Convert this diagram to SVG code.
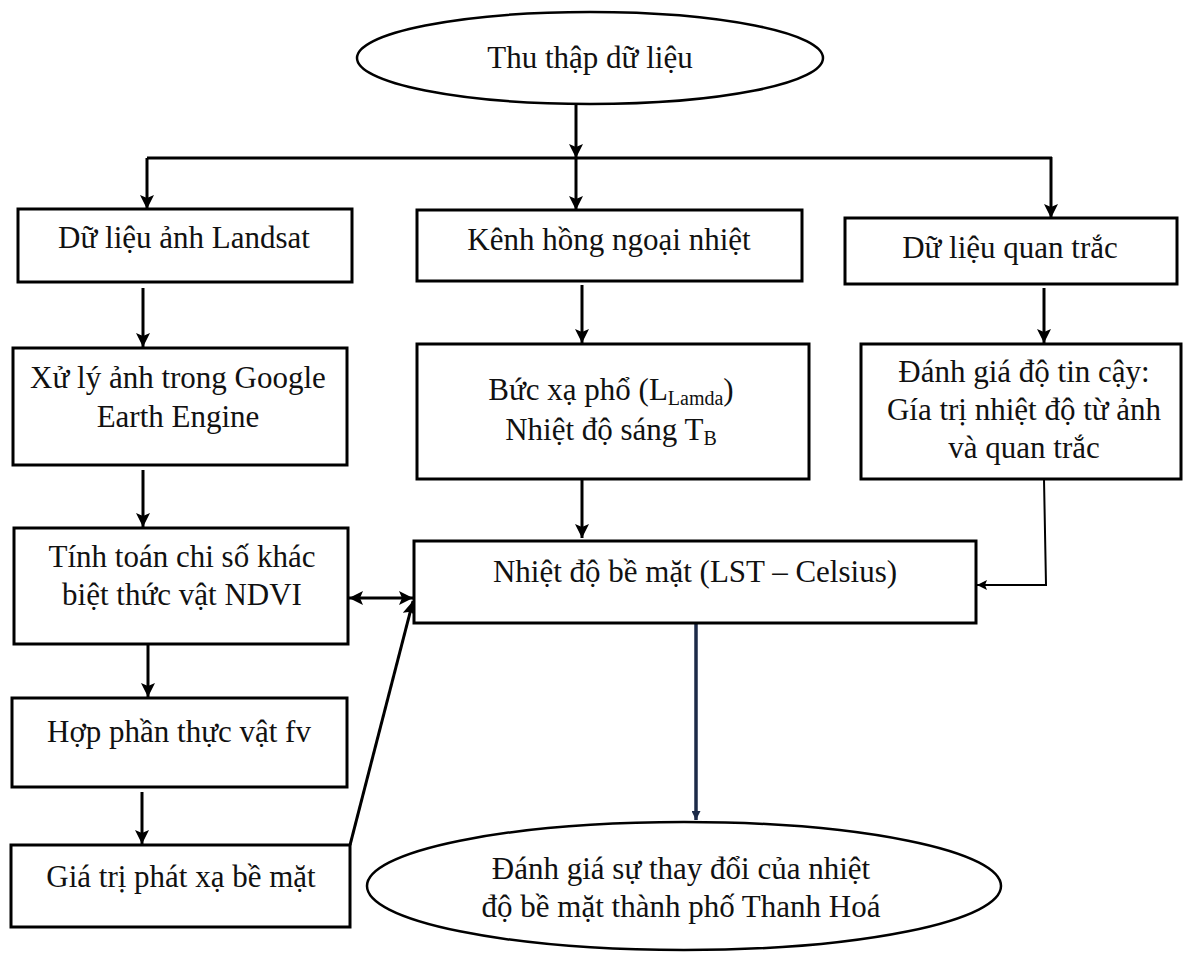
<svg xmlns="http://www.w3.org/2000/svg" width="1184" height="953" viewBox="0 0 1184 953">
<style>
  .box { fill: #ffffff; stroke: #000000; stroke-width: 3; }
  .ell { fill: #ffffff; stroke: #000000; stroke-width: 2.5; }
  .t { font-family: "Liberation Serif", "Times New Roman", serif; font-size: 31px; fill: #111111; text-anchor: middle; }
  .sub { font-size: 20px; }
  .c { fill: none; stroke: #000000; stroke-width: 3; }
  .thin { fill: none; stroke: #000000; stroke-width: 2; }
  .navy { fill: none; stroke: #1c2a48; stroke-width: 3.5; }
</style>
<defs>
  <marker id="ah" markerUnits="userSpaceOnUse" markerWidth="14" markerHeight="14" viewBox="0 0 14 14" refX="14" refY="7" orient="auto">
    <path d="M0,0 L14,7 L0,14 L3,7 z" fill="#000000"/>
  </marker>
  <marker id="ahs" markerUnits="userSpaceOnUse" markerWidth="14" markerHeight="14" viewBox="0 0 14 14" refX="14" refY="7" orient="auto-start-reverse">
    <path d="M0,0 L14,7 L0,14 L3,7 z" fill="#000000"/>
  </marker>
  <marker id="ahThin" markerUnits="userSpaceOnUse" markerWidth="10" markerHeight="10" viewBox="0 0 10 10" refX="10" refY="5" orient="auto">
    <path d="M0,0 L10,5 L0,10 L2,5 z" fill="#000000"/>
  </marker>
  <marker id="ahNavy" markerUnits="userSpaceOnUse" markerWidth="9" markerHeight="9" viewBox="0 0 9 9" refX="9" refY="4.5" orient="auto">
    <path d="M0,0 L9,4.5 L0,9 z" fill="#1c2a48"/>
  </marker>
</defs>

<g id="connectors">
  <line class="c" x1="576" y1="104" x2="576" y2="158" marker-end="url(#ah)"/>
  <line class="c" x1="147" y1="158" x2="1052" y2="158"/>
  <line class="c" x1="147" y1="158" x2="147" y2="209" marker-end="url(#ah)"/>
  <line class="c" x1="576" y1="158" x2="576" y2="210" marker-end="url(#ah)"/>
  <line class="c" x1="1051" y1="157" x2="1051" y2="218" marker-end="url(#ah)"/>
  <line class="c" x1="143" y1="288" x2="143" y2="347" marker-end="url(#ah)"/>
  <line class="c" x1="143" y1="470" x2="143" y2="527" marker-end="url(#ah)"/>
  <line class="c" x1="148" y1="644" x2="148" y2="697" marker-end="url(#ah)"/>
  <line class="c" x1="142" y1="792" x2="142" y2="844" marker-end="url(#ah)"/>
  <line class="c" x1="582" y1="285" x2="582" y2="343" marker-end="url(#ah)"/>
  <line class="c" x1="582" y1="479" x2="582" y2="538" marker-end="url(#ah)"/>
  <line class="c" x1="1044" y1="288" x2="1044" y2="343" marker-end="url(#ah)"/>
  <polyline class="thin" points="1044,479 1046,585 977,585" marker-end="url(#ahThin)"/>
  <line class="c" x1="349" y1="598" x2="413" y2="598" marker-start="url(#ahs)" marker-end="url(#ah)"/>
  <line class="c" x1="350" y1="845" x2="413" y2="601" marker-end="url(#ah)"/>
  <line class="navy" x1="696" y1="623" x2="696" y2="820" marker-end="url(#ahNavy)"/>
</g>

<g id="n-thu-thap">
  <ellipse class="ell" cx="590" cy="58" rx="233" ry="46"/>
  <text class="t" x="590" y="68">Thu thập dữ liệu</text>
</g>

<g id="n-landsat">
  <rect class="box" x="18" y="209" width="334" height="73"/>
  <text class="t" x="184" y="248">Dữ liệu ảnh Landsat</text>
</g>

<g id="n-kenh">
  <rect class="box" x="417" y="210" width="385" height="71"/>
  <text class="t" x="609" y="250">Kênh hồng ngoại nhiệt</text>
</g>

<g id="n-quan-trac">
  <rect class="box" x="845" y="218" width="332" height="66"/>
  <text class="t" x="1010" y="258">Dữ liệu quan trắc</text>
</g>

<g id="n-xu-ly">
  <rect class="box" x="13" y="348" width="334" height="117"/>
  <text class="t" x="178" y="388">Xử lý ảnh trong Google</text>
  <text class="t" x="178" y="427">Earth Engine</text>
</g>

<g id="n-buc-xa">
  <rect class="box" x="417" y="344" width="392" height="135"/>
  <text class="t" x="611" y="400">Bức xạ phổ (L<tspan class="sub" dy="5">Lamda</tspan><tspan dy="-5">)</tspan></text>
  <text class="t" x="611" y="440">Nhiệt độ sáng T<tspan class="sub" dy="5">B</tspan></text>
</g>

<g id="n-danh-gia-tin-cay">
  <rect class="box" x="861" y="344" width="320" height="135"/>
  <text class="t" x="1024" y="382">Đánh giá độ tin cậy:</text>
  <text class="t" x="1024" y="420">Gía trị nhiệt độ từ ảnh</text>
  <text class="t" x="1024" y="458">và quan trắc</text>
</g>

<g id="n-ndvi">
  <rect class="box" x="14" y="528" width="334" height="116"/>
  <text class="t" x="182" y="567">Tính toán chi số khác</text>
  <text class="t" x="182" y="605">biệt thức vật NDVI</text>
</g>

<g id="n-lst">
  <rect class="box" x="414" y="541" width="562" height="82"/>
  <text class="t" x="695" y="582">Nhiệt độ bề mặt (LST – Celsius)</text>
</g>

<g id="n-fv">
  <rect class="box" x="12" y="698" width="335" height="89"/>
  <text class="t" x="179" y="742">Hợp phần thực vật fv</text>
</g>

<g id="n-phat-xa">
  <rect class="box" x="11" y="845" width="339" height="82"/>
  <text class="t" x="181" y="887">Giá trị phát xạ bề mặt</text>
</g>

<g id="n-danh-gia-thay-doi">
  <ellipse class="ell" cx="684" cy="886" rx="317" ry="64"/>
  <text class="t" x="681" y="879">Đánh giá sự thay đổi của nhiệt</text>
  <text class="t" x="681" y="917">độ bề mặt thành phố Thanh Hoá</text>
</g>
</svg>
